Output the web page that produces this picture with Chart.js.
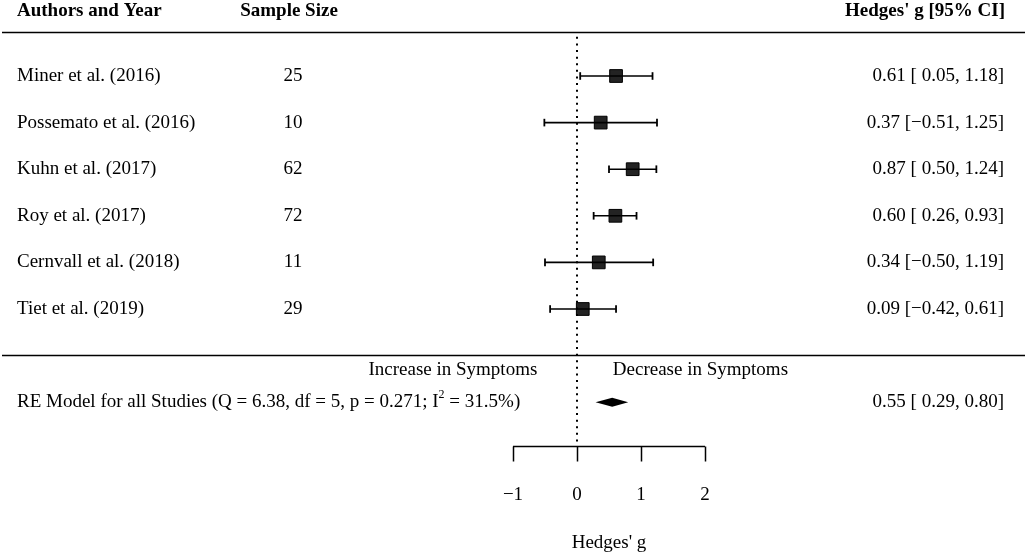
<!DOCTYPE html>
<html>
<head>
<meta charset="utf-8">
<script src="https://cdn.jsdelivr.net/npm/chart.js@4/dist/chart.umd.min.js"></script>
<style>
  html, body { margin: 0; padding: 0; background: #fff; }
  #wrap { width: 1027px; height: 554px; position: relative; }
</style>
</head>
<body>
<div id="wrap"><canvas id="chart"></canvas></div>
<script>
// forest plot data
const studies = ['Miner et al. (2016)', 'Possemato et al. (2016)', 'Kuhn et al. (2017)',
                 'Roy et al. (2017)', 'Cernvall et al. (2018)', 'Tiet et al. (2019)'];
const sampleSizes = [25, 10, 62, 72, 11, 29];
const estimates = [0.61, 0.37, 0.87, 0.60, 0.34, 0.09];
const ciLower = [0.05, -0.51, 0.50, 0.26, -0.50, -0.42];
const ciUpper = [1.18, 1.25, 1.24, 0.93, 1.19, 0.61];
const summaryEst = 0.55;
const summaryLower = 0.29;
const summaryUpper = 0.80;
const summaryLabel = 'RE Model for all Studies (Q = 6.38, df = 5, p = 0.271; I';
const summaryLabelEnd = ' = 31.5%)';
const xTicks = [-1, 0, 1, 2];

// rows: studies 1..6 top to bottom, summary on row 8
const rows = studies.map((s, i) => i + 1);
const summaryRow = 8;

const SERIF = '"Liberation Serif", "DejaVu Serif", serif';
const FS = 19;

function fmt(v) {
  const s = Math.abs(v).toFixed(2);
  return v < 0 ? '\u2212' + s : s;
}
function ciText(e, lo, hi) {
  const l = lo < 0 ? fmt(lo) : ' ' + fmt(lo);
  return fmt(e) + ' [' + l + ', ' + fmt(hi) + ']';
}

const whiskers = [];
rows.forEach((r, i) => {
  whiskers.push({ x: ciLower[i], y: r }, { x: ciUpper[i], y: r }, { x: null, y: null });
});

const forestDecor = {
  id: 'forestDecor',
  afterDraw(chart) {
    const { ctx } = chart;
    const xs = chart.scales.x, ys = chart.scales.y;
    const W = chart.width;
    ctx.save();

    // horizontal rules
    ctx.strokeStyle = '#000';
    ctx.lineWidth = 1.5;
    [0.055, 6.99].forEach(r => {
      const y = Math.round(ys.getPixelForValue(r)) + 0.5;
      ctx.beginPath(); ctx.moveTo(2, y); ctx.lineTo(W - 2, y); ctx.stroke();
    });

    // summary diamond
    const sy = ys.getPixelForValue(summaryRow);
    ctx.fillStyle = '#000';
    ctx.beginPath();
    ctx.moveTo(xs.getPixelForValue(summaryLower), sy);
    ctx.lineTo(xs.getPixelForValue(summaryEst), sy - 4.5);
    ctx.lineTo(xs.getPixelForValue(summaryUpper), sy);
    ctx.lineTo(xs.getPixelForValue(summaryEst), sy + 4.5);
    ctx.closePath();
    ctx.fill();

    // x axis
    const ay = Math.round(ys.getPixelForValue(8.94)) + 0.5;
    const tickEnd = ys.getPixelForValue(9.27);
    ctx.lineWidth = 1.5;
    ctx.beginPath();
    ctx.moveTo(xs.getPixelForValue(xTicks[0]), ay);
    ctx.lineTo(xs.getPixelForValue(xTicks[xTicks.length - 1]), ay);
    xTicks.forEach(t => {
      const px = Math.round(xs.getPixelForValue(t)) + 0.5;
      ctx.moveTo(px, ay); ctx.lineTo(px, tickEnd);
    });
    ctx.stroke();

    ctx.fillStyle = '#000';
    ctx.textBaseline = 'middle';
    ctx.font = FS + 'px ' + SERIF;
    ctx.textAlign = 'center';
    xTicks.forEach(t => {
      ctx.fillText(t < 0 ? '\u2212' + Math.abs(t) : String(t), xs.getPixelForValue(t), ys.getPixelForValue(10));
    });
    ctx.fillText("Hedges' g", xs.getPixelForValue(0.5), ys.getPixelForValue(11.02));

    // headers
    ctx.font = 'bold ' + FS + 'px ' + SERIF;
    const hy = ys.getPixelForValue(-0.4);
    ctx.textAlign = 'left';
    ctx.fillText('Authors and Year', 17, hy);
    ctx.textAlign = 'center';
    ctx.fillText('Sample Size', 289, hy);
    ctx.textAlign = 'right';
    ctx.fillText("Hedges' g [95% CI]", 1005, hy);

    // study rows
    ctx.font = FS + 'px ' + SERIF;
    rows.forEach((r, i) => {
      const y = ys.getPixelForValue(r);
      ctx.textAlign = 'left';
      ctx.fillText(studies[i], 17, y);
      ctx.textAlign = 'center';
      ctx.fillText(String(sampleSizes[i]), 293, y);
      ctx.textAlign = 'right';
      ctx.fillText(ciText(estimates[i], ciLower[i], ciUpper[i]), 1004, y);
    });

    // direction labels
    const ly = ys.getPixelForValue(7.3);
    ctx.textAlign = 'right';
    ctx.fillText('Increase in Symptoms', xs.getPixelForValue(-0.62), ly);
    ctx.textAlign = 'left';
    ctx.fillText('Decrease in Symptoms', xs.getPixelForValue(0.56), ly);

    // summary row text
    ctx.textAlign = 'left';
    ctx.fillText(summaryLabel, 17, sy);
    let x = 17 + ctx.measureText(summaryLabel).width;
    ctx.font = '12px ' + SERIF;
    ctx.fillText('2', x, sy - 7);
    x += ctx.measureText('2').width;
    ctx.font = FS + 'px ' + SERIF;
    ctx.fillText(summaryLabelEnd, x, sy);
    ctx.textAlign = 'right';
    ctx.fillText(ciText(summaryEst, summaryLower, summaryUpper), 1004, sy);

    ctx.restore();
  }
};

const ctx = document.getElementById('chart').getContext('2d');
new Chart(ctx, {
  type: 'scatter',
  data: {
    datasets: [
      {
        // reference line at 0
        data: [{ x: 0, y: 0.16 }, { x: 0, y: 8.9 }],
        showLine: true,
        borderColor: '#000',
        borderWidth: 2,
        borderDash: [2, 4.6],
        pointRadius: 0
      },
      {
        data: whiskers,
        showLine: true,
        spanGaps: false,
        borderColor: '#000',
        borderWidth: 1.6,
        pointStyle: 'line',
        rotation: 90,
        pointRadius: 3.8,
        pointBorderWidth: 1.8,
        pointBorderColor: '#000'
      },
      {
        data: rows.map((r, i) => ({ x: estimates[i], y: r })),
        pointStyle: 'rect',
        pointRadius: 9,
        backgroundColor: '#232323',
        borderColor: '#000',
        borderWidth: 1
      }
    ]
  },
  options: {
    responsive: true,
    maintainAspectRatio: false,
    animation: false,
    layout: { padding: 0, autoPadding: false },
    plugins: { legend: { display: false }, tooltip: { enabled: false } },
    scales: {
      x: { type: 'linear', display: false, min: -577 / 64, max: (1027 - 577) / 64 },
      y: { type: 'linear', display: false, reverse: true, min: 1 - 76 / 46.6, max: 1 + (554 - 76) / 46.6 }
    }
  },
  plugins: [forestDecor]
});
</script>
</body>
</html>
